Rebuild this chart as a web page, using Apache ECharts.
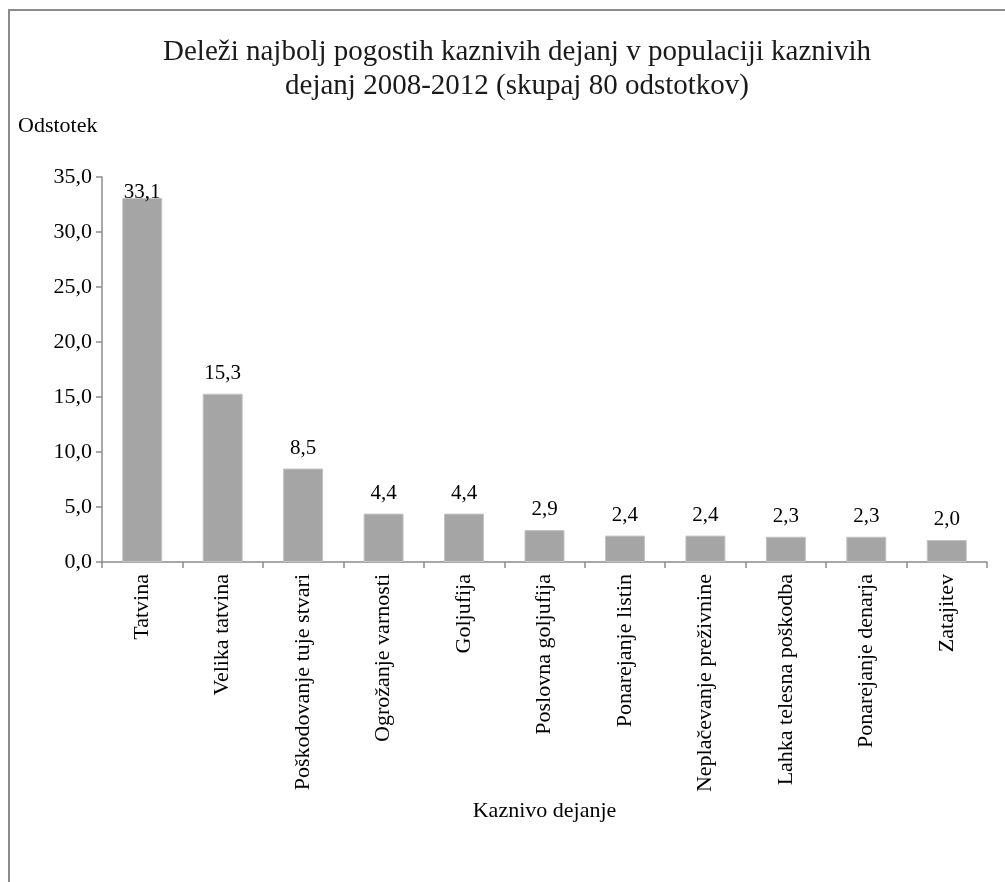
<!DOCTYPE html>
<html>
<head>
<meta charset="utf-8">
<style>
  html, body { margin: 0; padding: 0; background: #fff; }
  #frame { position: absolute; left: 8px; top: 9px; width: 1100px; height: 900px;
           border-left: 2px solid #8c8c8c; border-top: 2px solid #8c8c8c; }
  #chart { position: absolute; left: 0; top: 0; width: 1005px; height: 882px; }
</style>
<script src="https://cdn.jsdelivr.net/npm/echarts@6/dist/echarts.min.js"></script>
</head>
<body>
<div id="frame"></div>
<div id="chart"></div>
<script>
// podatki
var categories = ['Tatvina', 'Velika tatvina', 'Poškodovanje tuje stvari', 'Ogrožanje varnosti',
    'Goljufija', 'Poslovna goljufija', 'Ponarejanje listin', 'Neplačevanje preživnine',
    'Lahka telesna poškodba', 'Ponarejanje denarja', 'Zatajitev'];
var shares = [33.1, 15.3, 8.5, 4.4, 4.4, 2.9, 2.4, 2.4, 2.3, 2.3, 2.0];
var titleLines = ['Deleži najbolj pogostih kaznivih dejanj v populaciji kaznivih',
    'dejanj 2008-2012 (skupaj 80 odstotkov)'];

var serif = '"Liberation Serif", "DejaVu Serif", serif';
var axisGray = '#8c8c8c';

function fmt(v) {
    return v.toFixed(1).replace('.', ',');
}

// prvi napis je stisnjen k stolpcu (kot v Excelu, da ostane v risalni povrsini)
var barData = shares.map(function (v, i) {
    if (i === 0) return { value: v, label: { distance: -5 } };
    return v;
});

var chart = echarts.init(document.getElementById('chart'));
chart.setOption({
    animation: false,
    title: {
        text: titleLines.join('\n'),
        left: 512,
        top: 30,
        textAlign: 'center',
        textStyle: { fontFamily: serif, fontSize: 29, fontWeight: 'normal', color: '#1a1a1a', lineHeight: 34 }
    },
    grid: { left: 102, right: 18, top: 177, bottom: 320 },
    xAxis: {
        type: 'category',
        data: categories,
        name: 'Kaznivo dejanje',
        nameLocation: 'middle',
        nameGap: 238,
        nameTextStyle: { fontFamily: serif, fontSize: 22, color: '#000' },
        axisLine: { lineStyle: { color: axisGray, width: 1.5 } },
        axisTick: { show: true, length: 6, lineStyle: { color: axisGray, width: 1.5 } },
        axisLabel: { rotate: 90, interval: 0, margin: 12, fontFamily: serif, fontSize: 22, color: '#000' }
    },
    yAxis: {
        type: 'value',
        min: 0,
        max: 35,
        interval: 5,
        name: 'Odstotek',
        nameLocation: 'end',
        nameGap: 40,
        nameTextStyle: { fontFamily: serif, fontSize: 22, color: '#000', align: 'left', padding: [0, 0, 0, -84] },
        axisLine: { show: true, lineStyle: { color: axisGray, width: 1.5 } },
        axisTick: { show: true, length: 6, lineStyle: { color: axisGray, width: 1.5 } },
        splitLine: { show: false },
        axisLabel: { margin: 10, fontFamily: serif, fontSize: 22, color: '#000', formatter: fmt }
    },
    series: [{
        type: 'bar',
        data: barData,
        barWidth: 40,
        itemStyle: { color: '#a5a5a5', borderColor: '#c4c4c4', borderWidth: 1 },
        label: {
            show: true,
            position: 'top',
            distance: 10,
            fontFamily: serif,
            fontSize: 21,
            color: '#000',
            formatter: function (p) { return fmt(p.value); }
        }
    }]
});
</script>
</body>
</html>
